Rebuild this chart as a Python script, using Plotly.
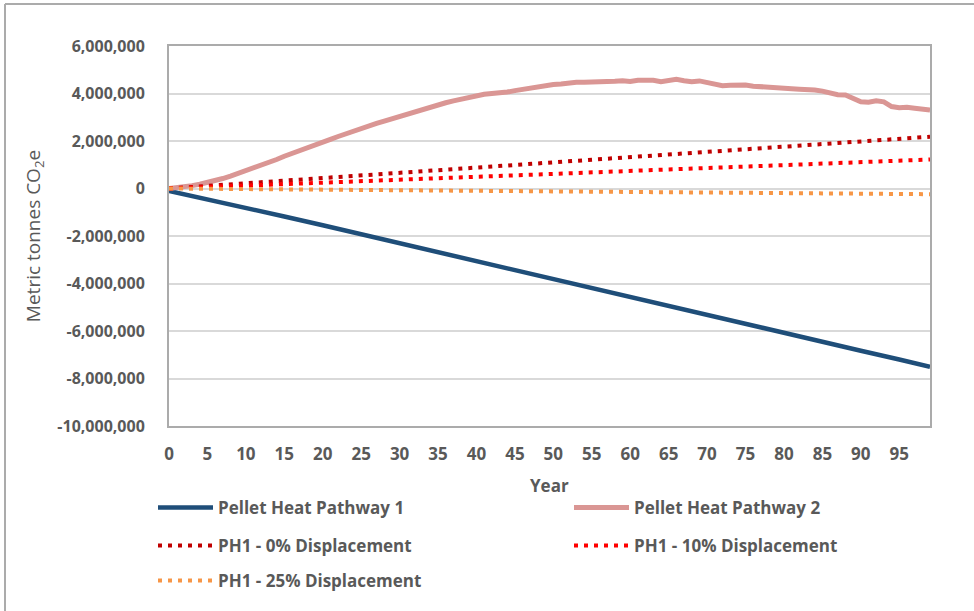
import plotly.graph_objects as go

# ---- data ----
years_p2 = list(range(100))
pathway2 = [0.00, 0.03, 0.07, 0.12, 0.18, 0.25, 0.33, 0.42, 0.52, 0.63,
            0.75, 0.86, 0.97, 1.09, 1.22, 1.36, 1.47, 1.58, 1.70, 1.83,
            1.95, 2.07, 2.19, 2.31, 2.43, 2.54, 2.64, 2.74, 2.84, 2.94,
            3.05, 3.15, 3.26, 3.36, 3.45, 3.53, 3.61, 3.69, 3.77, 3.84,
            3.91, 3.97, 4.00, 4.02, 4.06, 4.12, 4.18, 4.23, 4.27, 4.33,
            4.38, 4.40, 4.45, 4.47, 4.47, 4.47, 4.50, 4.51, 4.52, 4.54,
            4.51, 4.56, 4.57, 4.56, 4.50, 4.55, 4.60, 4.54, 4.50, 4.53,
            4.45, 4.38, 4.33, 4.35, 4.38, 4.36, 4.31, 4.28, 4.27, 4.26,
            4.18, 4.20, 4.18, 4.19, 4.15, 4.10, 4.02, 3.95, 3.94, 3.80,
            3.65, 3.63, 3.69, 3.65, 3.45, 3.40, 3.42, 3.38, 3.33, 3.30]

years_sparse = [0, 5, 10, 15, 20, 25, 30, 35, 40, 45, 50, 55, 60, 65, 70, 75, 80, 85, 90, 95, 99]
pathway1 = [-0.10, -0.45, -0.82, -1.18, -1.55, -1.93, -2.30, -2.68, -3.06, -3.44, -3.83,
            -4.21, -4.59, -4.96, -5.33, -5.71, -6.08, -6.45, -6.83, -7.20, -7.51]
ph1_0 = [0.00, 0.11, 0.22, 0.33, 0.44, 0.55, 0.66, 0.77, 0.87, 0.98, 1.09,
         1.20, 1.31, 1.42, 1.53, 1.64, 1.75, 1.86, 1.97, 2.08, 2.18]
ph1_10 = [0.00, 0.06, 0.12, 0.19, 0.25, 0.31, 0.37, 0.43, 0.49, 0.55, 0.62,
          0.68, 0.74, 0.80, 0.86, 0.92, 0.98, 1.05, 1.11, 1.17, 1.22]
ph1_25 = [0.00, -0.01, -0.02, -0.04, -0.05, -0.06, -0.07, -0.08, -0.10, -0.11, -0.12,
          -0.13, -0.14, -0.16, -0.17, -0.18, -0.19, -0.20, -0.22, -0.23, -0.24]

MILLION = 1e6
pathway2 = [v * MILLION for v in pathway2]
pathway1 = [v * MILLION for v in pathway1]
ph1_0 = [v * MILLION for v in ph1_0]
ph1_10 = [v * MILLION for v in ph1_10]
ph1_25 = [v * MILLION for v in ph1_25]

x_ticks = list(range(0, 100, 5))
y_ticks = [-10_000_000, -8_000_000, -6_000_000, -4_000_000, -2_000_000, 0,
           2_000_000, 4_000_000, 6_000_000]
y_tick_labels = ["-10,000,000", "-8,000,000", "-6,000,000", "-4,000,000", "-2,000,000", "0",
                 "2,000,000", "4,000,000", "6,000,000"]

names = ["Pellet Heat Pathway 1", "Pellet Heat Pathway 2", "PH1 - 0% Displacement",
         "PH1 - 10% Displacement", "PH1 - 25% Displacement"]
x_title = "Year"
y_title = "Metric tonnes CO<sub>2</sub>e"

GRAY = "#595959"
FRAME = "#ABABAB"
FONT = "Open Sans"
W, H = 974, 611
ML, MR, MT, MB = 169, 44, 46, 185
PW, PH = W - ML - MR, H - MT - MB

fig = go.Figure()
fig.add_trace(go.Scatter(x=years_sparse, y=pathway1, mode="lines", name=names[0],
                         line=dict(color="#1F4E79", width=4.5), legend="legend"))
fig.add_trace(go.Scatter(x=years_p2, y=pathway2, mode="lines", name=names[1],
                         line=dict(color="#DA9694", width=5), legend="legend2"))
fig.add_trace(go.Scatter(x=years_sparse, y=ph1_0, mode="lines", name=names[2],
                         line=dict(color="#C00000", width=4, dash="4px,6px"), legend="legend3"))
fig.add_trace(go.Scatter(x=years_sparse, y=ph1_10, mode="lines", name=names[3],
                         line=dict(color="#FF0000", width=4, dash="4px,6px"), legend="legend4"))
fig.add_trace(go.Scatter(x=years_sparse, y=ph1_25, mode="lines", name=names[4],
                         line=dict(color="#F79646", width=4, dash="4px,6px"), legend="legend5"))


def leg(xpx, ypx):
    return dict(orientation="h", xanchor="left", yanchor="middle", xref="container", yref="container",
                x=xpx / W, y=1 - ypx / H, itemwidth=55,
                font=dict(family=FONT, size=17, color=GRAY, weight="bold"),
                bgcolor="rgba(0,0,0,0)")


fig.update_layout(
    width=W, height=H,
    margin=dict(l=ML, r=MR, t=MT, b=MB, autoexpand=False),
    paper_bgcolor="white", plot_bgcolor="white",
    font=dict(family=FONT, color=GRAY),
    xaxis=dict(range=[0, 99], tickvals=x_ticks, ticktext=[str(t) for t in x_ticks],
               showgrid=False, zeroline=False, showline=True, linecolor=FRAME, linewidth=2,
               mirror=True, ticks="", ticklabelstandoff=12, automargin=False,
               tickfont=dict(family=FONT, size=17, color=GRAY, weight="bold")),
    yaxis=dict(range=[-10_000_000, 6_000_000], tickvals=y_ticks, ticktext=y_tick_labels,
               showgrid=True, gridcolor="#D9D9D9", gridwidth=1.5, zeroline=False,
               showline=True, linecolor=FRAME, linewidth=2, mirror=True, ticks="",
               ticklabelstandoff=19, automargin=False,
               tickfont=dict(family=FONT, size=16, color=GRAY, weight="bold"),
               title=dict(text=y_title, font=dict(family=FONT, size=19, color=GRAY), standoff=12)),
    legend=leg(153, 508),
    legend2=leg(569, 508),
    legend3=leg(153, 546),
    legend4=leg(569, 546),
    legend5=leg(153, 581),
    showlegend=True,
    annotations=[dict(text=x_title, xref="paper", yref="paper", x=0.5, y=-(485 - (H - MB)) / PH,
                      xanchor="center", yanchor="middle", showarrow=False,
                      font=dict(family=FONT, size=17, color=GRAY, weight="bold"))],
    shapes=[
        dict(type="line", xref="paper", yref="paper", x0=(5 - ML) / PW, x1=(5 - ML) / PW,
             y0=(H - MB - 4) / PH, y1=-MB / PH, line=dict(color=FRAME, width=2)),
        dict(type="line", xref="paper", yref="paper", x0=(5 - ML) / PW, x1=(W - ML) / PW,
             y0=(H - MB - 4) / PH, y1=(H - MB - 4) / PH, line=dict(color=FRAME, width=2)),
    ],
)

fig.write_html("out.html")
